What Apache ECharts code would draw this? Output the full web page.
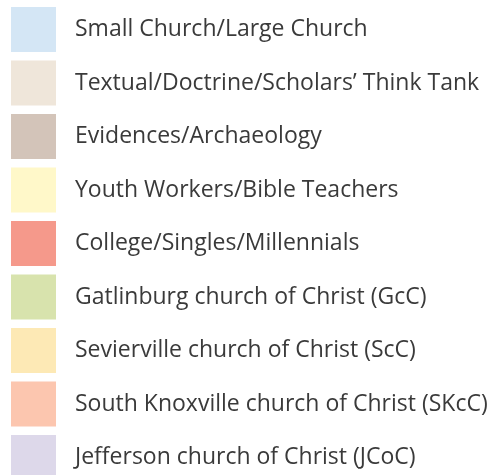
<!DOCTYPE html>
<html>
<head>
<meta charset="utf-8">
<script src="https://cdn.jsdelivr.net/npm/echarts@6/dist/echarts.min.js"></script>
<style>
  html, body { margin: 0; padding: 0; background: #fff; }
  #main { width: 494px; height: 475px; }
</style>
</head>
<body>
<div id="main"></div>
<script>
// legend entries, top to bottom
var names = [
  'Small Church/Large Church',
  'Textual/Doctrine/Scholars\u2019 Think Tank',
  'Evidences/Archaeology',
  'Youth Workers/Bible Teachers',
  'College/Singles/Millennials',
  'Gatlinburg church of Christ (GcC)',
  'Sevierville church of Christ (ScC)',
  'South Knoxville church of Christ (SKcC)',
  'Jefferson church of Christ (JCoC)'
];
var palette = ['#d4e6f5', '#efe6da', '#d3c4b9', '#fff8c9', '#f5998b',
  '#d8e3ad', '#fde9b5', '#fcc6af', '#ddd8ea'];

var chart = echarts.init(document.getElementById('main'));

var series = [];
for (var i = 0; i < names.length; i++) {
  series.push({
    name: names[i],
    type: 'bar',
    data: [],
    itemStyle: { color: palette[i] }
  });
}

var option = {
  animation: false,
  color: palette,
  xAxis: { show: false, type: 'category', data: [] },
  yAxis: { show: false },
  grid: { left: 0, right: 0, top: 0, bottom: 0 },
  legend: {
    orient: 'vertical',
    left: 6,
    top: 2,
    height: 1000,
    padding: 5,
    icon: 'rect',
    itemWidth: 45,
    itemHeight: 45,
    itemGap: 8.5,
    selectedMode: false,
    textStyle: {
      fontFamily: 'Open Sans',
      fontSize: 23,
      color: '#3a3a3a',
      padding: [0, 0, 0, 14]
    },
    data: names
  },
  series: series
};

chart.setOption(option);
</script>
</body>
</html>
